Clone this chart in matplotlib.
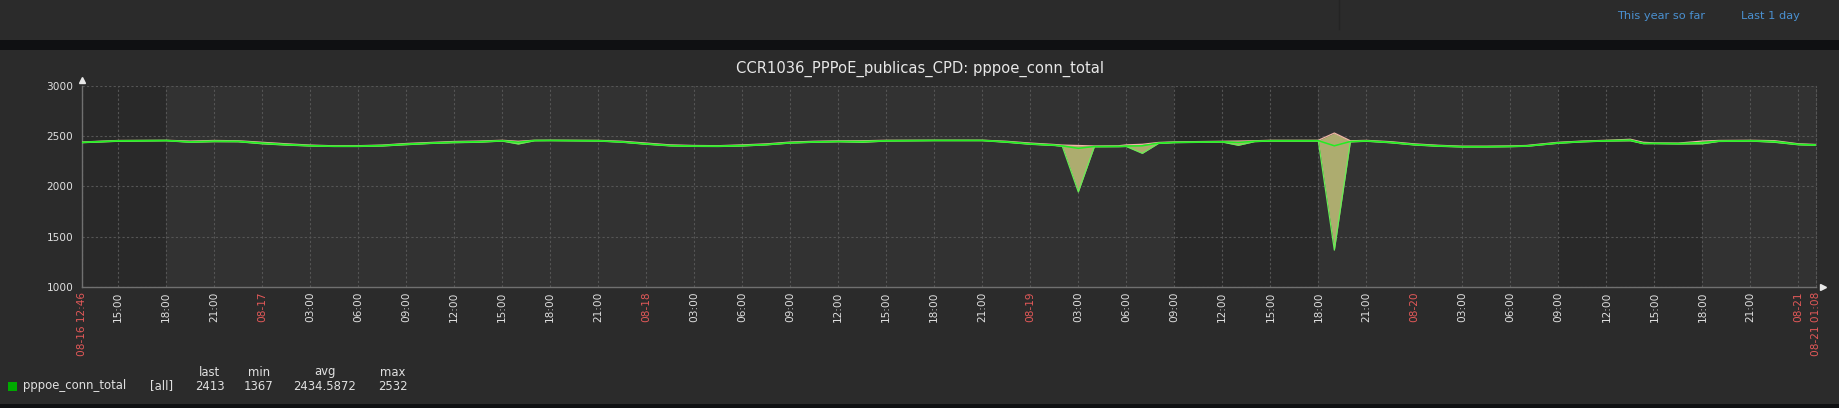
import matplotlib
matplotlib.use("Agg")
import matplotlib.pyplot as plt
from matplotlib.patches import Rectangle
from matplotlib import font_manager
from matplotlib.transforms import ScaledTranslation

# ---------------- data (hours since 08-16 00:00) ----------------
hours = [12.77, 15, 18, 19.5, 21, 22.5,
         24, 25.5, 27, 28.5, 30, 31.5, 33, 34.5, 36, 37.5, 39, 40, 41, 42, 45, 46.5,
         48, 49.5, 51, 52.5, 54, 55.5, 57, 58.5, 60, 61.5, 63, 66, 69, 70.5,
         72, 73.5, 74, 75, 76, 77.5, 78, 79, 80, 81, 84, 85, 86, 87, 90, 91, 92, 93, 94.5,
         96, 97.5, 99, 100.5, 102, 103, 105, 106.5, 108, 109.5, 110.3, 111, 112.5, 114, 115,
         117, 118.5, 120, 121.13]
avg_vals = [2440, 2455, 2458, 2445, 2452, 2450,
            2432, 2418, 2407, 2401, 2402, 2408, 2422, 2432, 2442, 2446, 2456, 2440, 2458, 2459, 2456, 2444,
            2425, 2408, 2403, 2402, 2408, 2418, 2436, 2444, 2449, 2448, 2456, 2459, 2459, 2445,
            2425, 2412, 2404, 2380, 2398, 2400, 2402, 2405, 2432, 2440, 2445, 2438, 2450, 2456, 2456, 2405, 2448, 2455, 2440,
            2418, 2405, 2397, 2397, 2400, 2403, 2435, 2448, 2456, 2462, 2430, 2430, 2428, 2437, 2452,
            2456, 2448, 2420, 2413]
min_vals = [2436, 2450, 2455, 2440, 2446, 2445,
            2425, 2412, 2403, 2398, 2398, 2403, 2416, 2428, 2436, 2440, 2452, 2423, 2455, 2456, 2452, 2440,
            2420, 2404, 2399, 2398, 2403, 2414, 2432, 2440, 2445, 2440, 2452, 2456, 2456, 2440,
            2420, 2408, 2400, 1946, 2395, 2396, 2398, 2330, 2428, 2436, 2442, 2410, 2446, 2452, 2452, 1367, 2444, 2450, 2435,
            2413, 2400, 2393, 2393, 2396, 2400, 2430, 2444, 2452, 2455, 2426, 2426, 2423, 2425, 2448,
            2452, 2440, 2415, 2410]
max_vals = [2443, 2458, 2460, 2452, 2458, 2455,
            2440, 2425, 2412, 2405, 2406, 2412, 2428, 2438, 2448, 2452, 2460, 2450, 2460, 2461, 2459, 2450,
            2432, 2414, 2408, 2406, 2414, 2424, 2442, 2450, 2454, 2455, 2460, 2461, 2461, 2450,
            2432, 2418, 2412, 2408, 2403, 2405, 2414, 2420, 2438, 2444, 2450, 2452, 2455, 2460, 2460, 2532, 2455, 2459, 2446,
            2424, 2410, 2401, 2401, 2404, 2408, 2440, 2452, 2460, 2470, 2440, 2434, 2432, 2452, 2458,
            2460, 2456, 2425, 2418]
work_periods = [(12.77, 18), (81, 90), (105, 114)]
t_start, t_end = 12.77, 121.13
y_ticks = [1000, 1500, 2000, 2500, 3000]
start_label, end_label = "08-16 12:46", "08-21 01:08"
title = "CCR1036_PPPoE_publicas_CPD: pppoe_conn_total"
legend_name, legend_fn = "pppoe_conn_total", "[all]"
legend_heads = ["last", "min", "avg", "max"]
legend_vals = ["2413", "1367", "2434.5872", "2532"]
links = ["This year so far", "Last 1 day"]

# ---------------- fonts ----------------
names = {f.name for f in font_manager.fontManager.ttflist}
narrow = "Liberation Sans Narrow" if "Liberation Sans Narrow" in names else "DejaVu Sans"

W, H = 1840, 408
BG = "#2b2b2b"
fig = plt.figure(figsize=(W / 100, H / 100), dpi=100, facecolor=BG)

# background / chrome axes in pixel coordinates
bg = fig.add_axes([0, 0, 1, 1], zorder=0)
bg.set_xlim(0, W)
bg.set_ylim(H, 0)
bg.axis("off")
bg.add_patch(Rectangle((0, 40), W, 10, color="#0f1012", lw=0))
bg.add_patch(Rectangle((0, 404), W, 4, color="#0f1012", lw=0))
bg.plot([1339, 1339], [0, 29], color="#242424", lw=1)
bg.text(1661, 16, links[0], color="#4a90d0", fontsize=8.2, family=narrow, ha="center", va="center")
bg.text(1770, 16, links[1], color="#4a90d0", fontsize=8.2, family=narrow, ha="center", va="center")
bg.text(920, 69, title, color="#e8e8e8", fontsize=10.6, ha="center", va="center")

# legend
bg.add_patch(Rectangle((8, 381.5), 9, 9, color="#00aa00", lw=0))
bg.text(23.5, 386, legend_name, color="#e0e0e0", fontsize=8.4, ha="left", va="center")
bg.text(162, 386, legend_fn, color="#e0e0e0", fontsize=8.4, ha="center", va="center")
for cx, hd, v in zip([209.5, 259, 325, 393], legend_heads, legend_vals):
    bg.text(cx, 372, hd, color="#e0e0e0", fontsize=8.4, ha="center", va="center")
    bg.text(cx, 386, v, color="#e0e0e0", fontsize=8.4, ha="center", va="center")

# ---------------- main plot ----------------
x0, x1, ytop, ybot = 82.5, 1816.5, 86, 287
ax = fig.add_axes([x0 / W, (H - ybot) / H, (x1 - x0) / W, (ybot - ytop) / H], zorder=1)
ax.set_facecolor("#323232")
ax.set_xlim(t_start, t_end)
ax.set_ylim(1000, 3000)
for a, b in work_periods:
    ax.axvspan(a, b, color="#292929", lw=0, zorder=0)

# ticks
major = list(range(15, 121, 3))
xt = [t_start] + major + [t_end]
xl = [start_label]
red = [True]
for t in major:
    if t % 24 == 0:
        xl.append(f"08-{16 + t // 24:02d}")
        red.append(True)
    else:
        xl.append(f"{t % 24:02d}:00")
        red.append(False)
xl.append(end_label)
red.append(True)
ax.set_xticks(xt)
ax.set_xticklabels(xl, rotation=90, fontsize=7.6, va="top", ha="center")
for lab, r in zip(ax.get_xticklabels(), red):
    lab.set_color("#e45959" if r else "#e0e0e0")
ax.set_yticks(y_ticks)
ax.set_yticklabels([str(v) for v in y_ticks], fontsize=7.6, color="#e0e0e0")
ax.tick_params(axis="x", length=0, pad=3.5)
ax.tick_params(axis="y", length=0, pad=6.5)

ax.grid(True, color="#555555", linestyle=(0, (2, 2)), lw=0.8, zorder=1)
ax.spines["top"].set_visible(False)
ax.spines["right"].set_color("#555555")
ax.spines["right"].set_linestyle((0, (2, 2)))
ax.spines["right"].set_linewidth(0.8)
for s in ["left", "bottom"]:
    ax.spines[s].set_color("#707070")
    ax.spines[s].set_linewidth(1)

# axis arrows
ax.plot([0], [1], marker="^", color="#e8e8e8", ms=4, clip_on=False, zorder=5,
        transform=ax.transAxes + ScaledTranslation(0, 6 / 100, fig.dpi_scale_trans))
ax.plot([1], [0], marker=">", color="#e8e8e8", ms=4, clip_on=False, zorder=5,
        transform=ax.transAxes + ScaledTranslation(7 / 100, 0, fig.dpi_scale_trans))

# data
ax.fill_between(hours, min_vals, max_vals, color="#adac6f", lw=0, zorder=2)
ax.plot(hours, max_vals, color="#f0b6a6", lw=0.9, zorder=3)
ax.plot(hours, min_vals, color="#66ee55", lw=0.9, zorder=3)
ax.plot(hours, avg_vals, color="#22ee22", lw=1.1, zorder=4)

fig.savefig("out.png", dpi=100, facecolor=BG)
